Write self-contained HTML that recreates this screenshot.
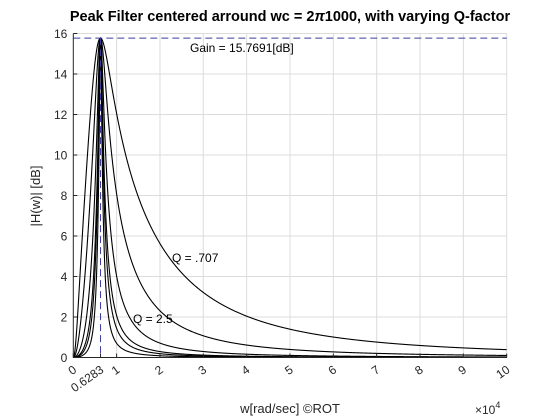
<!DOCTYPE html>
<html><head><meta charset="utf-8"><style>
html,body{margin:0;padding:0;background:#fff;}
svg{display:block;font-family:"Liberation Sans",Arial,sans-serif;}
</style></head><body>
<svg id="chart" width="560" height="420" viewBox="0 0 560 420">
<rect x="0" y="0" width="560" height="420" fill="#fff"/>
<text x="290" y="21" text-anchor="middle" font-size="14.5" font-weight="bold" fill="#000">Peak Filter centered arround wc = 2<tspan font-style="italic">π</tspan>1000, with varying Q-factor</text>
<g id="grid"></g>
<g id="curves"></g>
<g id="axes"></g>
<text x="190" y="52" font-size="12" fill="#000">Gain = 15.7691[dB]</text>
<text x="172" y="262" font-size="12" fill="#000">Q = .707</text>
<text x="133" y="323" font-size="12" fill="#000">Q = 2.5</text>
<text x="40" y="196" font-size="13" fill="#262626" text-anchor="middle" transform="rotate(-90 40 196)">|H(w)| [dB]</text>
<text x="290" y="413" font-size="13" fill="#262626" text-anchor="middle">w[rad/sec] ©ROT</text>
<text x="475" y="414" font-size="12" fill="#262626">×10<tspan font-size="9" dy="-6">4</tspan></text>
</svg>
<script>
const qValues = [1.25, 2.5, 5, 8, 10, 15];
const gainDb = 15.7691;
const wc = 2 * Math.PI * 1000;
const xTicks = [0, 0.6283, 1, 2, 3, 4, 5, 6, 7, 8, 9, 10];
const xTickLabels = ["0", "0.6283", "1", "2", "3", "4", "5", "6", "7", "8", "9", "10"];
const yTicks = [0, 2, 4, 6, 8, 10, 12, 14, 16];

const X0 = 73.3, X1 = 506.7, Y0 = 357.5, Y1 = 33.5;
const xScale = v => X0 + (v / 10) * (X1 - X0);
const yScale = v => Y0 - (v / 16) * (Y0 - Y1);
const NS = "http://www.w3.org/2000/svg";
function mk(tag, attrs, parent) {
  const e = document.createElementNS(NS, tag);
  for (const k in attrs) e.setAttribute(k, attrs[k]);
  parent.appendChild(e);
  return e;
}
const grid = document.getElementById('grid');
const axes = document.getElementById('axes');
const curves = document.getElementById('curves');

xTicks.forEach((t, i) => {
  if (t === 0 || t === 0.6283) return;
  const x = xScale(t);
  const g = mk('line', {x1: x, x2: x, y1: Y1, y2: Y0, stroke: '#dcdcdc', 'stroke-width': 1}, grid);
  
  
});
yTicks.forEach(t => {
  if (t === 0) return;
  const y = yScale(t);
  const g = mk('line', {x1: X0, x2: X1, y1: y, y2: y, stroke: '#dcdcdc', 'stroke-width': 1}, grid);
  
  
});

const G = Math.pow(10, gainDb / 20);
qValues.forEach(Q => {
  let d = '';
  const N = 1500;
  for (let i = 0; i <= N; i++) {
    const xv = 10 * i / N;
    const w = xv * 1e4;
    const re = wc * wc - w * w;
    const nIm = G * w * wc / Q;
    const dIm = w * wc / Q;
    const mag = Math.sqrt((re * re + nIm * nIm) / (re * re + dIm * dIm));
    const db = 20 * Math.log10(mag);
    d += (i ? 'L' : 'M') + xScale(xv).toFixed(2) + ' ' + yScale(db).toFixed(2);
  }
  const p = mk('path', {d: d, fill: 'none', stroke: '#000', 'stroke-width': 1.1}, curves);
  
  
});

const hl = mk('line', {x1: X0, x2: X1, y1: yScale(gainDb), y2: yScale(gainDb), stroke: '#3c3ca0', 'stroke-width': 1, 'stroke-dasharray': '7 4'}, curves);


const vl = mk('line', {x1: xScale(0.6283), x2: xScale(0.6283), y1: yScale(gainDb), y2: Y0, stroke: '#3c3ca0', 'stroke-width': 1, 'stroke-dasharray': '7 4'}, curves);



const ax = mk('line', {x1: X0, x2: X1, y1: Y0, y2: Y0, stroke: '#262626', 'stroke-width': 1}, axes);


const ay = mk('line', {x1: X0, x2: X0, y1: Y1, y2: Y0, stroke: '#262626', 'stroke-width': 1}, axes);



xTicks.forEach((t, i) => {
  const x = xScale(t);
  const tk = mk('line', {x1: x, x2: x, y1: Y0, y2: Y0 - 4, stroke: '#262626'}, axes);
  
  
  const ty = Y0 + 14;
  const lb = mk('text', {x: x + 4, y: ty, 'font-size': 12, fill: '#262626', 'text-anchor': 'end', transform: `rotate(-35 ${x + 4} ${ty})`}, axes);
  lb.textContent = xTickLabels[i];
  
  
});
yTicks.forEach(t => {
  const y = yScale(t);
  const tk = mk('line', {x1: X0, x2: X0 + 4, y1: y, y2: y, stroke: '#262626'}, axes);
  
  
  const lb = mk('text', {x: X0 - 6, y: y + 4.5, 'font-size': 12, fill: '#262626', 'text-anchor': 'end'}, axes);
  lb.textContent = String(t);
  
  
});
</script>
</body></html>
